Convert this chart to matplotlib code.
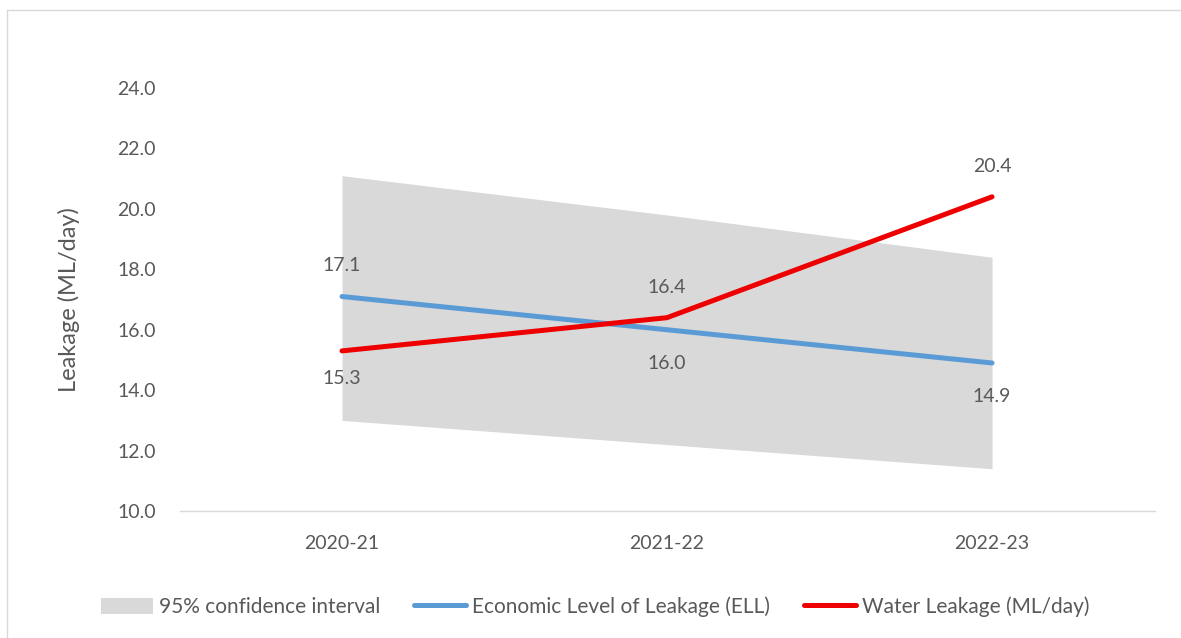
import matplotlib
matplotlib.use("Agg")
import matplotlib.pyplot as plt
from matplotlib.lines import Line2D
from matplotlib.patches import Patch

years = ["2020-21", "2021-22", "2022-23"]
ell = [17.1, 16.0, 14.9]
leakage = [15.3, 16.4, 20.4]
ci_low = [13.0, 12.2, 11.4]
ci_high = [21.1, 19.8, 18.4]
y_ticks = [10, 12, 14, 16, 18, 20, 22, 24]

GREY_TXT = "#595959"
FS = 14
plt.rcParams["font.family"] = ["Lato", "DejaVu Sans"]

fig = plt.figure(figsize=(11.81, 6.38), dpi=100)
ax = fig.add_axes([0.152, 0.199, 0.8256, 0.663])

x = list(range(len(years)))
ax.fill_between(x, ci_low, ci_high, color="#d9d9d9", linewidth=0, zorder=1)
ax.plot(x, ell, color="#5b9bd5", lw=3.6, solid_capstyle="round", zorder=2)
ax.plot(x, leakage, color="#ee0000", lw=3.6, solid_capstyle="round", zorder=3)

# data labels
for i, v in enumerate(ell):
    off = 22 if i == 0 else -24
    ax.annotate(f"{v:.1f}", (i, v), xytext=(0, off), textcoords="offset points",
                ha="center", va="center", fontsize=FS, color=GREY_TXT)
for i, v in enumerate(leakage):
    off = -20 if i == 0 else 22
    ax.annotate(f"{v:.1f}", (i, v), xytext=(0, off), textcoords="offset points",
                ha="center", va="center", fontsize=FS, color=GREY_TXT)

ax.set_xlim(-0.5, 2.5)
ax.set_ylim(10, 24)
ax.set_xticks(x)
ax.set_xticklabels(years)
ax.set_yticks(y_ticks)
ax.set_yticklabels([f"{t:.1f}" for t in y_ticks])
ax.tick_params(axis="x", length=0, pad=17, labelsize=FS, labelcolor=GREY_TXT)
ax.tick_params(axis="y", length=0, pad=17, labelsize=FS, labelcolor=GREY_TXT)
for s in ["top", "right", "left"]:
    ax.spines[s].set_visible(False)
ax.spines["bottom"].set_color("#d9d9d9")
ax.spines["bottom"].set_linewidth(1)

ax.set_ylabel("Leakage (ML/day)", fontsize=17, color=GREY_TXT)
ax.yaxis.set_label_coords(-0.102, 0.5)

handles = [
    Patch(facecolor="#d9d9d9", edgecolor="none"),
    Line2D([0], [0], color="#5b9bd5", lw=3.6, solid_capstyle="round"),
    Line2D([0], [0], color="#ee0000", lw=3.6, solid_capstyle="round"),
]
labels = ["95% confidence interval", "Economic Level of Leakage (ELL)",
          "Water Leakage (ML/day)"]
fig.legend(handles, labels, loc="center", bbox_to_anchor=(0.504, 0.049), ncol=3,
           frameon=False, fontsize=15, labelcolor=GREY_TXT, handlelength=2.5,
           handleheight=0.8, handletextpad=0.3, columnspacing=1.6)

# outer frame lines (left and top)
fig.add_artist(Line2D([7 / 1181, 7 / 1181], [0, 1 - 10 / 638],
                      transform=fig.transFigure, color="#d9d9d9", lw=1))
fig.add_artist(Line2D([7 / 1181, 1], [1 - 10 / 638, 1 - 10 / 638],
                      transform=fig.transFigure, color="#d9d9d9", lw=1))

fig.savefig("out.png", dpi=100)
